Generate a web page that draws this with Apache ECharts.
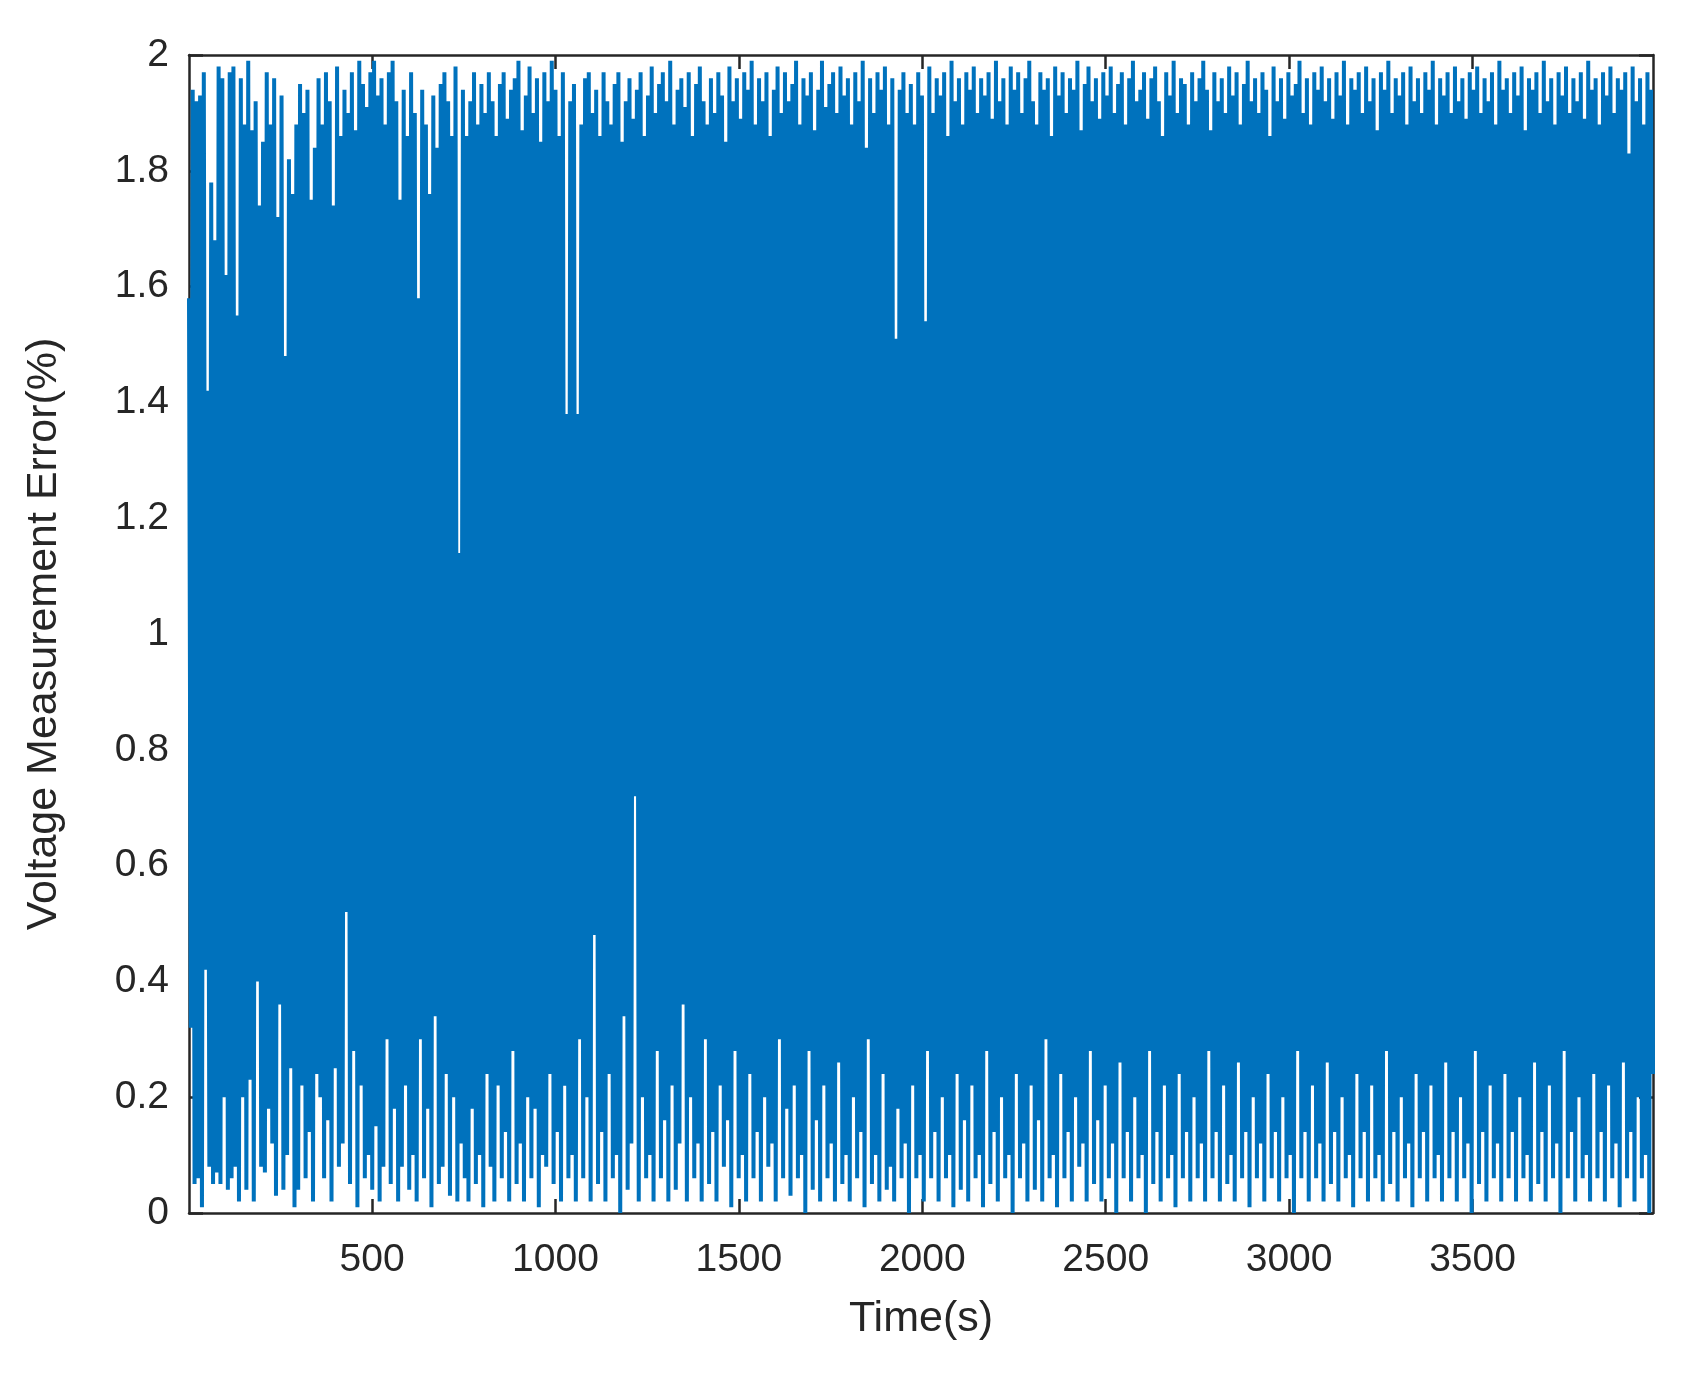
<!DOCTYPE html>
<html>
<head>
<meta charset="utf-8">
<script src="https://cdn.jsdelivr.net/npm/echarts@6/dist/echarts.min.js"></script>
<style>html,body{margin:0;padding:0;background:#fff}#main{width:1694px;height:1382px}</style>
</head>
<body>
<div id="main"></div>
<script>
// sampled envelope of the error trace, spread over 1..3992 s
var startTime = 1;
var endTime = 3992;
var errorValues = [
1.58,0.32,1.94,0.05,1.92,0.06,1.93,0.01,1.97,0.42,1.42,0.08,1.78,0.05,1.68,0.07,1.98,0.05,
1.96,0.20,1.62,0.04,1.97,0.06,1.98,0.08,1.55,0.02,1.96,0.20,1.88,0.04,1.99,0.23,1.87,0.02,
1.92,0.40,1.74,0.08,1.85,0.07,1.97,0.18,1.88,0.12,1.96,0.03,1.72,0.36,1.93,0.04,1.48,0.10,
1.82,0.25,1.76,0.01,1.88,0.04,1.95,0.22,1.90,0.06,1.94,0.14,1.75,0.02,1.84,0.24,1.96,0.20,
1.88,0.06,1.97,0.16,1.92,0.02,1.74,0.25,1.98,0.08,1.86,0.12,1.94,0.52,1.90,0.05,1.97,0.28,
1.87,0.01,1.99,0.22,1.95,0.06,1.91,0.10,1.97,0.04,1.99,0.15,1.93,0.02,1.96,0.08,1.88,0.30,
1.97,0.05,1.99,0.18,1.92,0.02,1.75,0.08,1.94,0.22,1.86,0.04,1.97,0.10,1.90,0.02,1.58,0.30,
1.94,0.06,1.88,0.18,1.76,0.01,1.93,0.34,1.84,0.05,1.95,0.08,1.97,0.24,1.92,0.03,1.86,0.20,
1.98,0.02,1.14,0.12,1.94,0.06,1.86,0.02,1.92,0.18,1.97,0.05,1.88,0.10,1.95,0.01,1.90,0.24,
1.97,0.08,1.92,0.02,1.86,0.22,1.95,0.06,1.97,0.14,1.89,0.02,1.94,0.28,1.96,0.05,1.99,0.12,
1.87,0.02,1.93,0.20,1.98,0.06,1.90,0.18,1.96,0.01,1.85,0.10,1.97,0.08,1.92,0.24,1.99,0.05,
1.94,0.14,1.86,0.02,1.97,0.22,1.38,0.06,1.92,0.10,1.95,0.02,1.38,0.30,1.88,0.06,1.96,0.20,
1.97,0.02,1.90,0.48,1.94,0.05,1.86,0.14,1.97,0.02,1.92,0.24,1.88,0.06,1.95,0.10,1.97,0.00,
1.85,0.34,1.92,0.04,1.96,0.12,1.89,0.72,1.94,0.02,1.97,0.20,1.86,0.06,1.93,0.10,1.98,0.02,
1.90,0.28,1.95,0.06,1.97,0.16,1.92,0.02,1.99,0.22,1.88,0.04,1.94,0.12,1.96,0.36,1.91,0.02,
1.97,0.20,1.86,0.06,1.95,0.12,1.98,0.02,1.92,0.30,1.88,0.05,1.96,0.14,1.90,0.02,1.97,0.22,
1.93,0.08,1.85,0.16,1.98,0.01,1.92,0.28,1.96,0.06,1.89,0.10,1.97,0.02,1.94,0.24,1.99,0.06,
1.88,0.14,1.96,0.02,1.92,0.20,1.97,0.08,1.86,0.12,1.94,0.02,1.98,0.30,1.90,0.06,1.97,0.18,
1.92,0.03,1.95,0.22,1.99,0.06,1.88,0.10,1.96,0.00,1.93,0.28,1.97,0.04,1.87,0.16,1.94,0.02,
1.99,0.22,1.91,0.06,1.95,0.12,1.97,0.02,1.90,0.26,1.98,0.05,1.93,0.10,1.96,0.02,1.88,0.20,
1.97,0.06,1.92,0.14,1.99,0.01,1.84,0.30,1.96,0.05,1.90,0.10,1.97,0.02,1.94,0.24,1.98,0.04,
1.88,0.08,1.96,0.02,1.51,0.18,1.94,0.06,1.97,0.12,1.90,0.00,1.95,0.22,1.88,0.06,1.97,0.10,
1.93,0.02,1.54,0.28,1.98,0.06,1.90,0.14,1.96,0.02,1.93,0.20,1.97,0.06,1.86,0.10,1.99,0.01,
1.92,0.24,1.96,0.04,1.88,0.16,1.97,0.02,1.94,0.22,1.98,0.06,1.90,0.10,1.96,0.01,1.93,0.28,
1.97,0.05,1.89,0.14,1.99,0.02,1.92,0.20,1.96,0.06,1.88,0.10,1.98,0.00,1.94,0.24,1.97,0.06,
1.90,0.12,1.96,0.02,1.99,0.22,1.92,0.04,1.88,0.16,1.97,0.02,1.94,0.30,1.96,0.06,1.86,0.10,
1.98,0.01,1.93,0.24,1.97,0.06,1.90,0.14,1.96,0.02,1.94,0.20,1.99,0.08,1.87,0.12,1.95,0.02,
1.98,0.28,1.92,0.05,1.96,0.16,1.89,0.02,1.97,0.22,1.93,0.06,1.98,0.12,1.90,0.00,1.95,0.26,
1.97,0.06,1.88,0.14,1.96,0.02,1.99,0.20,1.92,0.06,1.94,0.10,1.97,0.00,1.89,0.28,1.96,0.05,
1.98,0.14,1.92,0.02,1.86,0.22,1.97,0.06,1.93,0.10,1.99,0.01,1.90,0.24,1.96,0.06,1.95,0.14,
1.88,0.02,1.97,0.20,1.92,0.06,1.96,0.12,1.99,0.02,1.94,0.28,1.87,0.06,1.97,0.14,1.92,0.02,
1.96,0.22,1.90,0.05,1.98,0.10,1.93,0.02,1.97,0.26,1.88,0.06,1.95,0.14,1.99,0.01,1.92,0.20,
1.96,0.06,1.90,0.12,1.97,0.02,1.94,0.24,1.86,0.06,1.98,0.14,1.92,0.02,1.96,0.20,1.89,0.06,
1.97,0.10,1.93,0.00,1.95,0.28,1.99,0.06,1.90,0.14,1.96,0.02,1.88,0.22,1.97,0.06,1.94,0.12,
1.98,0.02,1.92,0.26,1.96,0.05,1.89,0.14,1.97,0.02,1.93,0.20,1.99,0.06,1.88,0.10,1.96,0.01,
1.94,0.24,1.97,0.06,1.90,0.14,1.98,0.02,1.92,0.22,1.96,0.06,1.87,0.10,1.97,0.02,1.94,0.28,
1.99,0.05,1.90,0.14,1.96,0.02,1.93,0.20,1.97,0.06,1.88,0.12,1.98,0.01,1.92,0.24,1.96,0.06,
1.90,0.14,1.97,0.02,1.94,0.22,1.99,0.06,1.88,0.10,1.96,0.02,1.93,0.26,1.97,0.06,1.90,0.14,
1.98,0.02,1.92,0.20,1.96,0.06,1.89,0.12,1.97,0.00,1.94,0.28,1.98,0.05,1.90,0.14,1.96,0.02,
1.92,0.22,1.97,0.06,1.88,0.12,1.99,0.02,1.94,0.24,1.96,0.06,1.90,0.14,1.97,0.02,1.93,0.20,
1.98,0.06,1.87,0.10,1.96,0.02,1.94,0.26,1.97,0.05,1.90,0.14,1.99,0.02,1.92,0.22,1.96,0.06,
1.88,0.12,1.97,0.00,1.93,0.28,1.98,0.06,1.90,0.14,1.96,0.02,1.92,0.20,1.97,0.06,1.89,0.10,
1.99,0.02,1.94,0.24,1.96,0.06,1.88,0.14,1.97,0.02,1.93,0.22,1.98,0.06,1.90,0.12,1.96,0.01,
1.94,0.26,1.97,0.06,1.83,0.14,1.98,0.02,1.92,0.20,1.96,0.06,1.88,0.10,1.97,0.00,1.94,0.24
];
var yTicks = [0, 0.2, 0.4, 0.6, 0.8, 1, 1.2, 1.4, 1.6, 1.8, 2];
var xTicks = [500, 1000, 1500, 2000, 2500, 3000, 3500];

var sampleStep = (endTime - startTime) / (errorValues.length - 1);
var points = errorValues.map(function (v, i) { return [startTime + i * sampleStep, v]; });

var chart = echarts.init(document.getElementById('main'), null, {renderer: 'canvas'});
var ink = '#262626';
var axisText = {color: ink, fontFamily: 'Liberation Sans', fontSize: 39};
var nameText = {color: ink, fontFamily: 'Liberation Sans', fontSize: 43};
var line = {show: true, onZero: false, lineStyle: {color: ink, width: 2.5}};
var tick = {show: true, inside: true, length: 14, lineStyle: {color: ink, width: 2.5}};
chart.setOption({
    animation: false,
    backgroundColor: '#fff',
    grid: {left: 189, right: 41, top: 55, bottom: 169},
    xAxis: [{
        type: 'value', min: startTime, max: endTime,
        name: 'Time(s)', nameLocation: 'middle', nameGap: 85, nameTextStyle: nameText,
        axisLine: line,
        axisTick: Object.assign({customValues: xTicks}, tick),
        axisLabel: Object.assign({margin: 28, customValues: xTicks, formatter: function (v) { return String(v); }}, axisText),
        splitLine: {show: false}
    }, {
        type: 'value', position: 'top', min: startTime, max: endTime,
        axisLine: line,
        axisTick: Object.assign({customValues: xTicks}, tick),
        axisLabel: {show: false}, splitLine: {show: false}
    }],
    yAxis: [{
        type: 'value', min: 0, max: 2, interval: 0.2,
        name: 'Voltage Measurement Error(%)', nameLocation: 'middle', nameGap: 123, nameTextStyle: nameText,
        axisLine: line, axisTick: tick,
        axisLabel: Object.assign({margin: 20, formatter: function (v) { return String(+v.toFixed(1)); }}, axisText),
        splitLine: {show: false}
    }, {
        type: 'value', position: 'right', min: 0, max: 2, interval: 0.2,
        axisLine: line, axisTick: tick,
        axisLabel: {show: false}, splitLine: {show: false}
    }],
    series: [{
        type: 'line', data: points, showSymbol: false, clip: true,
        lineStyle: {color: '#0072BD', width: 4}
    }]
});
</script>
</body>
</html>
